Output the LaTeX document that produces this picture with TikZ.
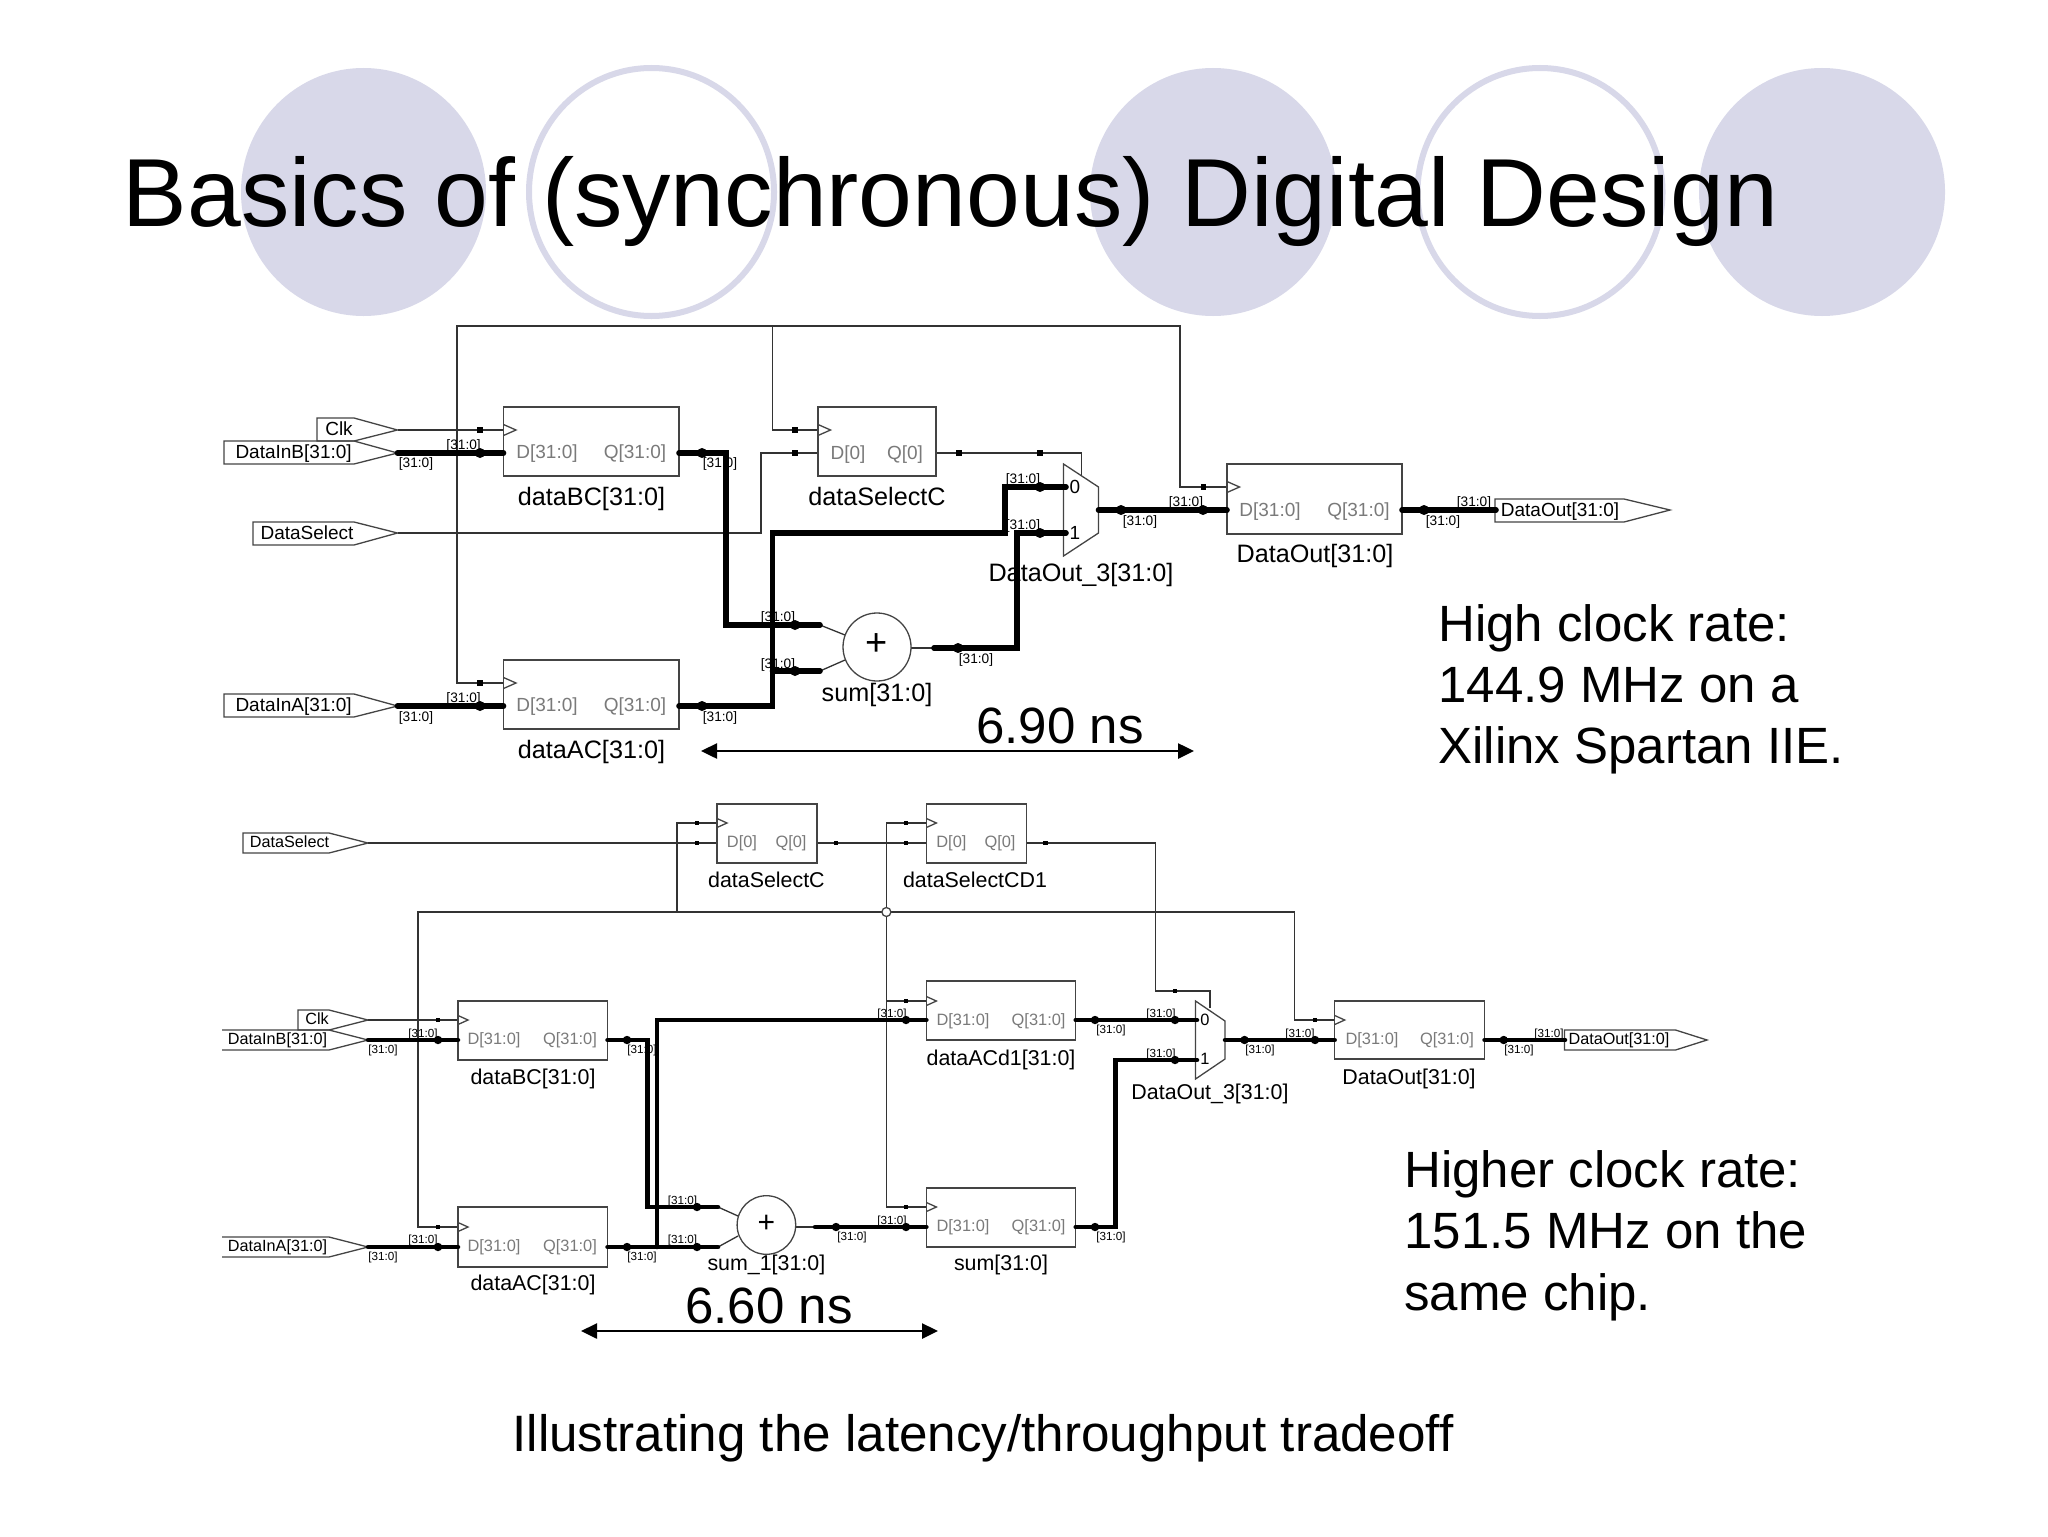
\documentclass[tikz,border=0pt]{standalone}
\usepackage{fontspec}
\setmainfont{Liberation Sans}
\usetikzlibrary{arrows.meta}
\definecolor{lav}{HTML}{D8D8E9}
\definecolor{wirec}{HTML}{333333}
\definecolor{boxc}{HTML}{444444}
\definecolor{pinc}{HTML}{7A7A7A}
\newcounter{lbl}
\newcommand{\fs}[1]{\fontsize{#1}{#1}\selectfont}
\tikzset{
  wire/.style={draw=wirec,line width=0.65pt},
  bus/.style={draw=black,line width=2.8pt,line cap=round,line join=miter},
  busb/.style={draw=black,line width=2.25pt,line cap=round,line join=miter},
  ffrect/.style={draw=boxc,line width=0.75pt,fill=white,rectangle,inner sep=0pt,outer sep=0pt},
  shp/.style={draw=boxc,line width=0.65pt},
  tagA/.style={inner sep=0pt,text height=4.9pt,text depth=0pt,font=\fs{6.85}},
  tagB/.style={inner sep=0pt,text height=4.2pt,text depth=0pt,font=\fs{5.85}},
  pinA/.style={inner sep=0pt,text height=6.85pt,text depth=0pt,text=pinc,font=\fs{9.5}},
  pinB/.style={inner sep=0pt,text height=5.9pt,text depth=0pt,text=pinc,font=\fs{8.2}},
  nameA/.style={inner sep=0pt,text height=9.1pt,text depth=0pt,font=\fs{12.6}},
  nameB/.style={inner sep=0pt,text height=7.7pt,text depth=0pt,font=\fs{10.7}},
  portA/.style={inner sep=0pt,text height=6.85pt,text depth=0pt,font=\fs{9.5}},
  portB/.style={inner sep=0pt,text height=5.8pt,text depth=0pt,font=\fs{8.1}},
  big/.style={inner sep=0pt,font=\fs{25.5}},
  ruler/.style={draw=black,line width=1.25pt,{Triangle[length=8pt,width=7.5pt]}-{Triangle[length=8pt,width=7.5pt]}},
}
% name x1 y1 x2 y2 : flip-flop body
\newcommand{\ffbody}[5]{%
  \pgfmathsetmacro\ffw{(#4-#2)/2}\pgfmathsetmacro\ffh{(#5-#3)/2}%
  \node[ffrect,minimum width=\ffw pt,minimum height=\ffh pt] (#1) at ({(#2+#4)/2},{(#3+#5)/2}) {};}
% x y half-height length : clock wedge
\newcommand{\clkw}[4]{\draw[shp,line join=miter] (#1,#2-#3) -- (#1+#4,#2) -- (#1,#2+#3);}
\newcommand{\sqd}[3]{\fill[black] (#1-#3,#2-#3) rectangle (#1+#3,#2+#3);}
\newcommand{\bd}[3]{\fill[black] (#1,#2) ellipse [x radius=#3,y radius=#3];}
\newcommand{\tg}[3]{\stepcounter{lbl}\node[#1] (lbl\thelbl) at (#2,#3) {[31:0]};}
\begin{document}
\begin{tikzpicture}[x=0.5pt,y=-0.5pt]
\useasboundingbox (0,0) rectangle (2048,1536);
\fill[white] (0,0) rectangle (2048,1536);
% decorative circles
\fill[lav] (363.5,192) ellipse [x radius=122.5,y radius=124];
\draw[lav,line width=3pt] (651.5,192) ellipse [x radius=122.5,y radius=124];
\fill[lav] (1213,192) ellipse [x radius=123,y radius=124];
\draw[lav,line width=3pt] (1540,192) ellipse [x radius=122.5,y radius=124];
\fill[lav] (1822,192) ellipse [x radius=123,y radius=124];
\node[anchor=base west,inner sep=0pt,font=\fs{48.35}] (title) at (122.5,226) {Basics of (synchronous) Digital Design};

%%%%%%%%%% TOP CIRCUIT
% ports
\draw[shp] (317,418) -- (354,418) -- (397.5,430) -- (354,441) -- (317,441) -- cycle;
\draw[shp] (224,441) -- (354,441) -- (397.5,453) -- (354,464) -- (224,464) -- cycle;
\draw[shp] (253,522) -- (354,522) -- (397.5,533) -- (354,545) -- (253,545) -- cycle;
\draw[shp] (224,694) -- (354,694) -- (397.5,706) -- (354,717) -- (224,717) -- cycle;
\draw[shp] (1495,499) -- (1624,499) -- (1670,510) -- (1624,522) -- (1495,522) -- cycle;
\coordinate (tClkT) at (397.5,430);
\coordinate (tInB) at (397.5,453);
\coordinate (tSelT) at (397.5,533);
\coordinate (tInA) at (397.5,706);
\coordinate (tOutP) at (1496,510);
% pins
\coordinate (tBCc) at (503.5,430); \coordinate (tBCd) at (503.5,453); \coordinate (tBCq) at (679,453);
\coordinate (tACc) at (503.5,683); \coordinate (tACd) at (503.5,706); \coordinate (tACq) at (679,706);
\coordinate (tSCc) at (818,430); \coordinate (tSCd) at (818,453); \coordinate (tSCq) at (936,453);
\coordinate (tDOc) at (1227,487); \coordinate (tDOd) at (1227,510); \coordinate (tDOq) at (1402,510);
\coordinate (tM0) at (1066,487); \coordinate (tM1) at (1066,533); \coordinate (tMo) at (1098.5,510);
\coordinate (tMs) at (1081.5,475);
\coordinate (tAa) at (820,625); \coordinate (tAb) at (820,671); \coordinate (tAo) at (934,648);
\coordinate (tAai) at (845,635); \coordinate (tAbi) at (845,660); \coordinate (tAoi) at (911,648);
% thin wires
\draw[wire] (tClkT) -- (tBCc);
\draw[wire] (tACc) -| (457,326) -| (1180,487) -- (tDOc);
\draw[wire] (772.5,326) |- (tSCc);
\draw[wire] (tSelT) -| (761,453) -- (tSCd);
\draw[wire] (tSCq) -| (tMs);
\draw[wire] (tAa) -- (tAai);
\draw[wire] (tAb) -- (tAbi);
\draw[wire] (tAoi) -- (tAo);
% flip-flops
\ffbody{tBC}{503.5}{407}{679}{476}
\ffbody{tAC}{503.5}{660}{679}{729}
\ffbody{tSC}{818}{407}{936}{476}
\ffbody{tDO}{1227}{464}{1402}{534}
\clkw{503.5}{430}{5.5}{12.5}\clkw{503.5}{683}{5.5}{12.5}\clkw{818}{430}{5.5}{12.5}\clkw{1227}{487}{5.5}{12.5}
% adder + mux
\node[draw=boxc,line width=0.65pt,circle,fill=white,minimum size=34pt,inner sep=0pt] (tAdd) at (877,647) {};
\node[inner sep=0pt,font=\fs{19}] (tPlus) at (877,645) {+};
\draw[shp,fill=white] (1063.5,464) -- (1098.5,487) -- (1098.5,533) -- (1063.5,556) -- cycle;
\node[inner sep=0pt,font=\fs{9.5}] (tM0t) at (1075,487) {0};
\node[inner sep=0pt,font=\fs{9.5}] (tM1t) at (1075,533) {1};
% buses
\draw[bus] (tInB) -- (tBCd);
\draw[bus] (tInA) -- (tACd);
\draw[bus] (tBCq) -| (726,625) -- (tAa);
\draw[bus] (tACq) -| (772.5,533) -| (1005,487) -- (tM0);
\draw[bus] (772.5,671) -- (tAb);
\draw[bus] (tAo) -| (1017,533) -- (tM1);
\draw[bus] (tMo) -- (tDOd);
\draw[bus] (tDOq) -- (tOutP);
% dots
\sqd{480}{430}{2.6}\sqd{480}{683}{2.6}\sqd{795}{430}{2.6}\sqd{795}{453}{2.6}\sqd{959}{453}{2.6}\sqd{1040}{453}{2.6}\sqd{1203.5}{487}{2.6}
\bd{480}{453}{5}\bd{480}{706}{5}\bd{702}{453}{5}\bd{702}{706}{5}\bd{795}{625}{5}\bd{795}{671}{5}
\bd{958}{648}{5}\bd{1040}{487}{5}\bd{1040}{533}{5}\bd{1121}{510}{5}\bd{1203}{510}{5}\bd{1424}{510}{5}
% port text
\node[portA] (tClkL) at (339,429) {Clk};
\node[portA] (tInBL) at (293.6,452) {DataInB[31:0]};
\node[portA] (tSelL) at (307,533) {DataSelect};
\node[portA] (tInAL) at (293.6,705) {DataInA[31:0]};
\node[portA] (tOutL) at (1560,510) {DataOut[31:0]};
% pin text
\node[pinA] (p1) at (547,452) {D[31:0]}; \node[pinA] (p2) at (635,452) {Q[31:0]};
\node[pinA] (p3) at (547,705) {D[31:0]}; \node[pinA] (p4) at (635,705) {Q[31:0]};
\node[pinA] (p5) at (848,453) {D[0]}; \node[pinA] (p6) at (905,453) {Q[0]};
\node[pinA] (p7) at (1270,510) {D[31:0]}; \node[pinA] (p8) at (1358.5,510) {Q[31:0]};
% instance names
\node[nameA] (n1) at (591.5,496) {dataBC[31:0]};
\node[nameA] (n2) at (591.5,749) {dataAC[31:0]};
\node[nameA] (n3) at (877,496) {dataSelectC};
\node[nameA] (n4) at (1081,572) {DataOut\_3[31:0]};
\node[nameA] (n5) at (877,692) {sum[31:0]};
\node[nameA] (n6) at (1315,553) {DataOut[31:0]};
% net tags
\tg{tagA}{463.6}{445}\tg{tagA}{416}{463}\tg{tagA}{720}{463}\tg{tagA}{463.6}{698}\tg{tagA}{416}{717}\tg{tagA}{720}{717}
\tg{tagA}{1023}{479}\tg{tagA}{1023}{525}\tg{tagA}{778}{617}\tg{tagA}{778}{664}\tg{tagA}{976}{659}
\tg{tagA}{1140}{521}\tg{tagA}{1186}{502}\tg{tagA}{1474}{502}\tg{tagA}{1443}{521}
% timing
\node[inner sep=0pt,font=\fs{25.5}] (tT) at (1060,726) {6.90 ns};
\coordinate (tRa) at (701,751); \coordinate (tRb) at (1194,751);
\draw[ruler] (tRa) -- (tRb);
\node[big,anchor=base west] (h1) at (1438,641) {High clock rate:};
\node[big,anchor=base west] (h2) at (1438,702) {144.9 MHz on a};
\node[big,anchor=base west] (h3) at (1438,763) {Xilinx Spartan IIE.};

%%%%%%%%%% BOTTOM CIRCUIT
\draw[shp] (243,833) -- (329,833) -- (368,843) -- (329,853) -- (243,853) -- cycle;
\draw[shp] (298,1010) -- (329,1010) -- (368,1020) -- (329,1030) -- (298,1030) -- cycle;
\draw[shp] (222,1030) -- (329,1030) -- (368,1040) -- (329,1050) -- (222,1050);
\draw[shp] (222,1237) -- (329,1237) -- (368,1247) -- (329,1257) -- (222,1257);
\draw[shp] (1564.5,1030) -- (1675.5,1030) -- (1707,1040) -- (1675.5,1050) -- (1564.5,1050) -- cycle;
\coordinate (bSelP) at (368,843); \coordinate (bClkP) at (368,1020);
\coordinate (bInB) at (368,1040); \coordinate (bInA) at (368,1247); \coordinate (bOutP) at (1565,1040);
\coordinate (bBCc) at (458,1020); \coordinate (bBCd) at (458,1040); \coordinate (bBCq) at (607.5,1040);
\coordinate (bACc) at (458,1227); \coordinate (bACd) at (458,1247); \coordinate (bACq) at (607.5,1247);
\coordinate (bSCc) at (717,823); \coordinate (bSCd) at (717,843); \coordinate (bSCq) at (817,843);
\coordinate (bSDc) at (926.4,823); \coordinate (bSDd) at (926.4,843); \coordinate (bSDq) at (1026.4,843);
\coordinate (bA1c) at (926.4,1001); \coordinate (bA1d) at (926.4,1020); \coordinate (bA1q) at (1075.7,1020);
\coordinate (bSMc) at (926.4,1207); \coordinate (bSMd) at (926.4,1227); \coordinate (bSMq) at (1075.7,1227);
\coordinate (bDOc) at (1334.7,1020); \coordinate (bDOd) at (1334.7,1040); \coordinate (bDOq) at (1484.5,1040);
\coordinate (bM0) at (1197,1020); \coordinate (bM1) at (1197,1060); \coordinate (bMo) at (1225,1040); \coordinate (bMs) at (1210,1008);
\coordinate (bAa) at (718,1207); \coordinate (bAb) at (718,1247); \coordinate (bAai) at (738,1216); \coordinate (bAbi) at (738,1236);
\coordinate (bAoi) at (796,1227); \coordinate (bAo) at (815,1227);
\coordinate (bJ) at (886.4,912);
% thin wires
\draw[wire] (bSelP) -- (bSCd);
\draw[wire] (bClkP) -- (bBCc);
\draw[wire] (bACc) -| (418,912) -| (1294.7,1020) -- (bDOc);
\draw[wire] (677,912) |- (bSCc);
\draw[wire] (bSDc) -| (bJ) |- (bSMc);
\draw[wire] (886.4,1001) -- (bA1c);
\draw[wire] (bSCq) -- (bSDd);
\draw[wire] (bSDq) -| (1155.7,991) -| (bMs);
\draw[wire] (bAa) -- (bAai);
\draw[wire] (bAb) -- (bAbi);
\draw[wire] (bAoi) -- (bAo);
% flip-flops
\ffbody{bBC}{458}{1001}{607.5}{1060}
\ffbody{bAC}{458}{1207}{607.5}{1267}
\ffbody{bSC}{717}{804}{817}{863}
\ffbody{bSD}{926.4}{804}{1026.4}{863}
\ffbody{bA1}{926.4}{981}{1075.7}{1040}
\ffbody{bSM}{926.4}{1188}{1075.7}{1247}
\ffbody{bDO}{1334.7}{1001}{1484.5}{1059}
\clkw{458}{1020}{4.5}{10}\clkw{458}{1227}{4.5}{10}\clkw{717}{823}{4.5}{10}\clkw{926.4}{823}{4.5}{10}
\clkw{926.4}{1001}{4.5}{10}\clkw{926.4}{1207}{4.5}{10}\clkw{1334.7}{1020}{4.5}{10}
% adder, mux, junction
\node[draw=boxc,line width=0.65pt,circle,fill=white,minimum size=29.3pt,inner sep=0pt] (bAdd) at (766.4,1225) {};
\node[inner sep=0pt,font=\fs{15}] (bPlus) at (766.4,1224) {+};
\draw[shp,fill=white] (1195.5,1001) -- (1225,1021) -- (1225,1059) -- (1195.5,1079) -- cycle;
\node[inner sep=0pt,font=\fs{8.2}] (bM0t) at (1205,1020) {0};
\node[inner sep=0pt,font=\fs{8.2}] (bM1t) at (1205,1059) {1};
\node[draw=boxc,line width=0.65pt,circle,fill=white,minimum size=4.5pt,inner sep=0pt] (bJn) at (bJ) {};
% buses
\draw[busb] (bInB) -- (bBCd);
\draw[busb] (bInA) -- (bACd);
\draw[busb] (bBCq) -| (647.5,1207) -- (bAa);
\draw[busb] (bACq) -- (bAb);
\draw[busb] (657,1247) |- (bA1d);
\draw[busb] (bAo) -- (bSMd);
\draw[busb] (bA1q) -- (bM0);
\draw[busb] (bSMq) -| (1115.7,1060) -- (bM1);
\draw[busb] (bMo) -- (bDOd);
\draw[busb] (bDOq) -- (bOutP);
% dots
\sqd{438}{1020}{2.2}\sqd{438}{1227}{2.2}\sqd{697}{823}{2.2}\sqd{697}{843}{2.2}\sqd{836}{843}{2.2}\sqd{906}{823}{2.2}\sqd{906}{843}{2.2}
\sqd{1045.5}{843}{2.2}\sqd{906}{1001}{2.2}\sqd{906}{1207}{2.2}\sqd{1175}{991}{2.2}\sqd{1315}{1020}{2.2}
\bd{438}{1040}{4.2}\bd{438}{1247}{4.2}\bd{627}{1040}{4.2}\bd{627}{1247}{4.2}\bd{697}{1207}{4.2}\bd{697}{1247}{4.2}
\bd{836}{1227}{4.2}\bd{906}{1020}{4.2}\bd{906}{1227}{4.2}\bd{1095}{1020}{4.2}\bd{1095}{1227}{4.2}\bd{1175}{1020}{4.2}\bd{1175}{1060}{4.2}
\bd{1244.5}{1040}{4.2}\bd{1315}{1040}{4.2}\bd{1503.7}{1040}{4.2}
% port text
\node[portB] (bSelL) at (289.5,842) {DataSelect};
\node[portB] (bClkL) at (317,1019) {Clk};
\node[portB] (bInBL) at (277.5,1039) {DataInB[31:0]};
\node[portB] (bInAL) at (277.5,1246) {DataInA[31:0]};
\node[portB] (bOutL) at (1619,1039) {DataOut[31:0]};
% pin text
\node[pinB] (q1) at (494,1039) {D[31:0]}; \node[pinB] (q2) at (570,1039) {Q[31:0]};
\node[pinB] (q3) at (494,1246) {D[31:0]}; \node[pinB] (q4) at (570,1246) {Q[31:0]};
\node[pinB] (q5) at (742,842) {D[0]}; \node[pinB] (q6) at (791,842) {Q[0]};
\node[pinB] (q7) at (951.4,842) {D[0]}; \node[pinB] (q8) at (1000,842) {Q[0]};
\node[pinB] (q9) at (963,1020) {D[31:0]}; \node[pinB] (q10) at (1038.6,1020) {Q[31:0]};
\node[pinB] (q11) at (963,1226) {D[31:0]}; \node[pinB] (q12) at (1038.6,1226) {Q[31:0]};
\node[pinB] (q13) at (1372,1039) {D[31:0]}; \node[pinB] (q14) at (1447,1039) {Q[31:0]};
% instance names
\node[nameB] (m1) at (766.4,880) {dataSelectC};
\node[nameB] (m2) at (975,880) {dataSelectCD1};
\node[nameB] (m3) at (533,1077) {dataBC[31:0]};
\node[nameB] (m4) at (533,1283) {dataAC[31:0]};
\node[nameB] (m5) at (1001,1058) {dataACd1[31:0]};
\node[nameB] (m6) at (1001,1263) {sum[31:0]};
\node[nameB] (m7) at (766.4,1263) {sum\_1[31:0]};
\node[nameB] (m8) at (1210,1092) {DataOut\_3[31:0]};
\node[nameB] (m9) at (1409,1077) {DataOut[31:0]};
% net tags
\tg{tagB}{423}{1033}\tg{tagB}{383}{1049}\tg{tagB}{642}{1049}\tg{tagB}{682.5}{1200}\tg{tagB}{682.5}{1239}
\tg{tagB}{423}{1239}\tg{tagB}{383}{1256}\tg{tagB}{642}{1256}\tg{tagB}{892}{1013}\tg{tagB}{852}{1236}
\tg{tagB}{892}{1220}\tg{tagB}{1111}{1029}\tg{tagB}{1161}{1013}\tg{tagB}{1161}{1053}\tg{tagB}{1111}{1236}
\tg{tagB}{1260}{1049}\tg{tagB}{1300}{1033}\tg{tagB}{1519}{1049}\tg{tagB}{1549}{1033}
% timing
\node[inner sep=0pt,font=\fs{25.5}] (bT) at (769,1306) {6.60 ns};
\coordinate (bRa) at (581,1331); \coordinate (bRb) at (938,1331);
\draw[ruler] (bRa) -- (bRb);
\node[big,anchor=base west] (g1) at (1404,1187) {Higher clock rate:};
\node[big,anchor=base west] (g2) at (1404,1248) {151.5 MHz on the};
\node[big,anchor=base west] (g3) at (1404,1310) {same chip.};
\node[anchor=base west,inner sep=0pt,font=\fs{25.6}] (cap) at (512,1451) {Illustrating the latency/throughput tradeoff};
\end{tikzpicture}
\end{document}
